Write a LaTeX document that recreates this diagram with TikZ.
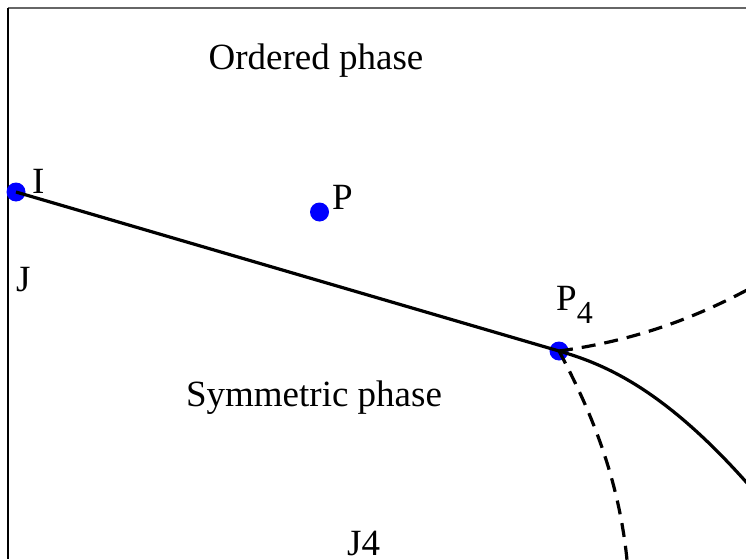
\documentclass[tikz,border=0pt]{standalone}
\usepackage{fontspec}
\setmainfont{Liberation Serif}
\begin{document}
\begin{tikzpicture}[x=1pt,y=-1pt,
  dot/.style={circle,fill={rgb,255:red,0;green,0;blue,255},minimum size=19pt,inner sep=0pt},
  lbl/.style={inner sep=0pt,font=\fontsize{37}{40}\selectfont},
  curve/.style={line width=3.2pt},
  dcurve/.style={line width=3.2pt,dash pattern=on 14pt off 9pt}]
\useasboundingbox (0,0) rectangle (746,559);
% frame
\draw[line width=2pt,gray!80!black] (8,8) -- (746,8);
\draw[line width=2pt] (8,8) -- (8,559);
% dots
\node[dot] (I) at (16,192) {};
\node[dot] (P) at (319.5,212) {};
\node[dot] (P4) at (559,351) {};
% free ends
\coordinate (E1) at (747,483);
\coordinate (E2) at (747,290);
\coordinate (E3) at (627,560);
% lines
\draw[curve] (I.center) -- (P4.center) .. controls (600,363) and (660,385) .. (E1);
\draw[dcurve] (P4.center) .. controls (640,340) and (700,315) .. (E2);
\draw[dcurve] (P4.center) .. controls (585,400) and (618,470) .. (E3);
% labels
\node[lbl,anchor=base] (ord) at (316,70) {Ordered phase};
\node[lbl,anchor=base] (sym) at (314,406) {Symmetric phase};
\node[lbl,anchor=base west] (lI) at (32,193) {I};
\node[lbl,anchor=base west] (lJ) at (16,291) {J};
\node[lbl,anchor=base west] (lP) at (332,209) {P};
\node[lbl,anchor=base west] (lP4) at (556,310) {P\raisebox{-13pt}{\fontsize{32}{34}\selectfont 4}};
\node[lbl,anchor=base west] (lJ4) at (347,555) {J4};
\end{tikzpicture}
\end{document}
